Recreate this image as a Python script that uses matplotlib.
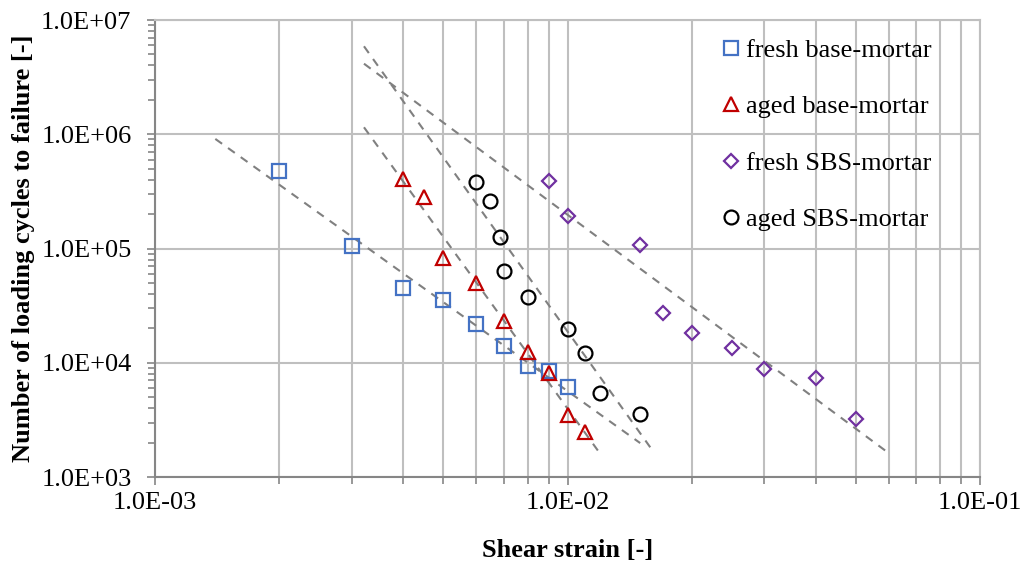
import numpy as np
import matplotlib
matplotlib.use("Agg")
import matplotlib.pyplot as plt
from matplotlib.ticker import LogLocator, FuncFormatter, NullFormatter

plt.rcParams['font.family'] = ['Liberation Serif', 'DejaVu Serif']

# ---- data ----
fresh_base_x = [2e-3, 3e-3, 4e-3, 5e-3, 6e-3, 7e-3, 8e-3, 9e-3, 1.0e-2]
fresh_base_y = [4.8e5, 1.05e5, 4.5e4, 3.55e4, 2.2e4, 1.4e4, 9.4e3, 8.4e3, 6.1e3]

aged_base_x = [4e-3, 4.5e-3, 5e-3, 6e-3, 7e-3, 8e-3, 9e-3, 1.0e-2, 1.1e-2]
aged_base_y = [4.1e5, 2.85e5, 8.2e4, 4.95e4, 2.3e4, 1.25e4, 8.2e3, 3.5e3, 2.5e3]

fresh_sbs_x = [9e-3, 1.0e-2, 1.5e-2, 1.7e-2, 2.0e-2, 2.5e-2, 3.0e-2, 4.0e-2, 5.0e-2]
fresh_sbs_y = [3.9e5, 1.94e5, 1.07e5, 2.75e4, 1.82e4, 1.34e4, 8.8e3, 7.4e3, 3.2e3]

aged_sbs_x = [6e-3, 6.5e-3, 6.85e-3, 7e-3, 8e-3, 1.0e-2, 1.1e-2, 1.2e-2, 1.5e-2]
aged_sbs_y = [3.8e5, 2.6e5, 1.27e5, 6.3e4, 3.8e4, 1.96e4, 1.22e4, 5.4e3, 3.55e3]

# trend line extents (strain)
fresh_base_trend = [1.40e-3, 1.50e-2]
aged_base_trend = [3.21e-3, 1.20e-2]
fresh_sbs_trend = [3.21e-3, 5.94e-2]
aged_sbs_trend = [3.21e-3, 1.60e-2]

labels = ["fresh base-mortar", "aged base-mortar", "fresh SBS-mortar", "aged SBS-mortar"]

fig = plt.figure(figsize=(10.24, 5.62), dpi=100)
ax = fig.add_axes([0.1514, 0.1512, 0.8057, 0.8132])

grid_c = '#BFBFBF'
spine_c = '#868686'

series = [
    (fresh_base_x, fresh_base_y, fresh_base_trend, 's', '#4472C4', 10),
    (aged_base_x, aged_base_y, aged_base_trend, '^', '#C00000', 10),
    (fresh_sbs_x, fresh_sbs_y, fresh_sbs_trend, 'D', '#7030A0', 7.5),
    (aged_sbs_x, aged_sbs_y, aged_sbs_trend, 'o', '#000000', 10),
]

for (x, y, tr, m, c, ms), lab in zip(series, labels):
    lx, ly = np.log10(x), np.log10(y)
    k, b = np.polyfit(lx, ly, 1)
    tx = np.array(tr)
    ty = 10 ** (k * np.log10(tx) + b)
    ax.plot(tx, ty, color='#808080', lw=1.5, ls=(0, (4, 3.5)), zorder=2)

for (x, y, tr, m, c, ms), lab in zip(series, labels):
    ax.plot(x, y, ls='none', marker=m, ms=ms, mfc='none', mec=c, mew=1.6,
            label=lab, zorder=3)

ax.set_xscale('log')
ax.set_yscale('log')
ax.set_xlim(1e-3, 1e-1)
ax.set_ylim(1e3, 1e7)

ax.xaxis.set_major_locator(LogLocator(base=10, numticks=10))
ax.xaxis.set_minor_locator(LogLocator(base=10, subs=np.arange(2, 10), numticks=20))
ax.yaxis.set_major_locator(LogLocator(base=10, numticks=10))
ax.yaxis.set_minor_locator(LogLocator(base=10, subs=np.arange(2, 10), numticks=20))

fmt = FuncFormatter(lambda v, p: "{:.1E}".format(v))
ax.xaxis.set_major_formatter(fmt)
ax.yaxis.set_major_formatter(fmt)
ax.xaxis.set_minor_formatter(NullFormatter())
ax.yaxis.set_minor_formatter(NullFormatter())

ax.grid(True, which='major', axis='both', color=grid_c, lw=1.5)
ax.grid(True, which='minor', axis='x', color=grid_c, lw=1.5)
ax.set_axisbelow(True)

for s in ['top', 'right']:
    ax.spines[s].set_color(grid_c)
    ax.spines[s].set_linewidth(1.5)
for s in ['left', 'bottom']:
    ax.spines[s].set_color(spine_c)
    ax.spines[s].set_linewidth(1.5)

ax.tick_params(which='both', direction='out', color=spine_c, width=1.2, labelsize=19)
ax.tick_params(which='major', length=6)
ax.tick_params(which='minor', length=5)
ax.tick_params(axis='y', which='major', pad=11)
ax.tick_params(axis='x', which='major', pad=5)

ax.set_xlabel("Shear strain [-]", fontsize=19, fontweight='bold', labelpad=18)
ax.set_ylabel("Number of loading cycles to failure [-]", fontsize=19, fontweight='bold', labelpad=4)

leg = ax.legend(loc='upper left', bbox_to_anchor=(0.656, 1.0), frameon=False,
                fontsize=19, handletextpad=0.0, labelspacing=1.25,
                handlelength=1.2, borderaxespad=0.3, markerscale=1.0)

fig.savefig("out.png", dpi=100)
